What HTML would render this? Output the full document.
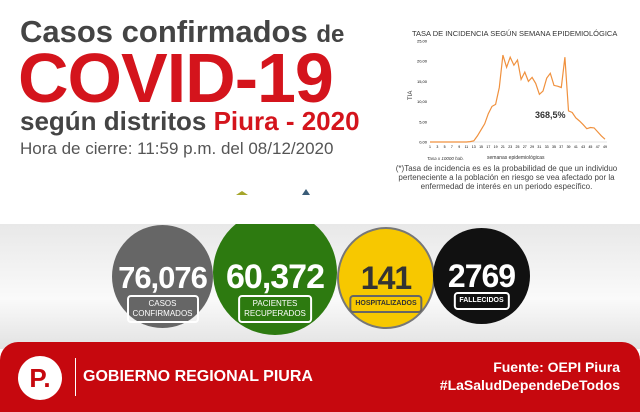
<!DOCTYPE html>
<html><head><meta charset="utf-8"><style>
body{margin:0;width:640px;height:406px;overflow:hidden;position:relative;font-family:"Liberation Sans",sans-serif;background:#fff}
.abs{position:absolute}
.circ{position:absolute;border-radius:50%;text-align:center;box-sizing:border-box}
.num{position:absolute;left:0;right:0;font-weight:bold;font-size:31px;letter-spacing:-1px}
.lbl{position:absolute;left:50%;transform:translateX(-50%);border:2px solid #fff;border-radius:4px;font-size:8px;line-height:10px;padding:2px 4px;white-space:nowrap}
</style></head><body>
<div class="abs" style="left:0;top:224px;width:640px;height:125px;background:linear-gradient(#e8e8e8,#fafafa 60%,#e2e2e2)"></div>
<div class="abs" style="left:20px;top:14px;font-size:31px;font-weight:bold;color:#444">Casos confirmados <span style="font-size:24px">de</span></div>
<div class="abs" style="left:18px;top:38px;font-size:70px;font-weight:bold;color:#d4141c;letter-spacing:-1px">COVID-19</div>
<div class="abs" style="left:20px;top:106px;font-size:26px;font-weight:bold;color:#444">según distritos <span style="color:#d4141c">Piura - 2020</span></div>
<div class="abs" style="left:20px;top:139px;font-size:17px;color:#555">Hora de cierre: 11:59 p.m. del 08/12/2020</div>
<div class="abs" style="left:384px;top:164px;width:245px;font-size:8px;line-height:9px;color:#444;text-align:center">(*)Tasa de incidencia es es la probabilidad de que un individuo perteneciente a la población en riesgo se vea afectado por la enfermedad de interés en un periodo específico.</div>
<svg class="abs" style="left:0;top:0" width="640" height="406">
<rect x="405" y="20" width="215" height="142" fill="#fff"/>
<text x="412" y="36" font-size="7.5" fill="#333" font-family="Liberation Sans">TASA DE INCIDENCIA SEGÚN SEMANA EPIDEMIOLÓGICA</text>
<text x="412" y="100" font-size="6" fill="#333" transform="rotate(-90 412 100)">TIA</text>
<g id="yt"></g><g id="xt"></g>
<line x1="430" y1="142" x2="607" y2="142" stroke="#ccc" stroke-width="0.6"/>
<path id="line" fill="none" stroke="#f0913e" stroke-width="1.2"/>
<text x="535" y="118" font-size="9" font-weight="bold" fill="#333">368,5%</text>
<text x="427" y="160" font-size="4.5" font-style="italic" fill="#333">Tasa x 10000 hab.</text>
<text x="487" y="159" font-size="5" fill="#333">semanas epidemiológicas</text>
<polygon points="236,195 242,191 248,195" fill="#a5a52a"/>
<polygon points="302,195 306,189 310,195" fill="#3a5c78"/>
</svg>
<div class="abs" style="left:0;top:224px;width:640px;height:120px;overflow:hidden">
<div class="circ" style="left:112px;top:1px;width:101px;height:103px;background:#666">
<div class="num" style="top:35px;color:#fff">76,076</div>
<div class="lbl" style="top:70px;color:#fff">CASOS<br>CONFIRMADOS</div></div>
<div class="circ" style="left:213px;top:-14px;width:124px;height:125px;background:#2d7a10">
<div class="num" style="top:48px;color:#fff;font-size:34px">60,372</div>
<div class="lbl" style="top:85px;color:#fff">PACIENTES<br>RECUPERADOS</div></div>
<div class="circ" style="left:337px;top:3px;width:98px;height:102px;background:#f7c800;border:2px solid #777">
<div class="num" style="top:31px;color:#333;font-size:32px">141</div>
<div class="lbl" style="top:66px;color:#333;border-color:#666;font-size:7px;font-weight:bold">HOSPITALIZADOS</div></div>
<div class="circ" style="left:433px;top:4px;width:97px;height:96px;background:#111">
<div class="num" style="top:30px;color:#fff;font-size:32px">2769</div>
<div class="lbl" style="top:64px;color:#fff;font-size:7px;font-weight:bold">FALLECIDOS</div></div>
</div>
<div class="abs" style="left:0;top:342px;width:640px;height:70px;background:#c6080e;border-radius:18px 18px 0 0"></div>
<div class="abs" style="left:18px;top:356px;width:44px;height:44px;border-radius:50%;background:#fff;color:#c6080e;font-weight:bold;font-size:26px;text-align:center;line-height:44px">P.</div>
<div class="abs" style="left:75px;top:358px;width:1px;height:38px;background:#fff"></div>
<div class="abs" style="left:83px;top:368px;color:#fff;font-weight:bold;font-size:16px">GOBIERNO REGIONAL PIURA</div>
<div class="abs" style="right:20px;top:358px;color:#fff;font-weight:bold;font-size:14px;text-align:right;line-height:18px">Fuente: OEPI Piura<br>#LaSaludDependeDeTodos</div>
<script>
const weeks=[];for(let i=1;i<=49;i++)weeks.push(i);
const tia=[0,0,0,0,0,0,0,0,0,0,0,0.1,0.3,1.5,3,4.5,7,8.8,9.3,13.5,21.5,18.5,21,19,20.3,15.5,17.3,15,16,14.5,11.8,12.6,15.8,17,14,13.8,13.5,21,7.7,7.3,6,5.2,4.3,3.3,3.6,3.5,2.5,1.5,0.7];
const yTicks=[0,5,10,15,20,25];
const xs=w=>430+(w-1)*(175/48), ys=v=>142-v*(101/25);
const ns='http://www.w3.org/2000/svg';
document.getElementById('line').setAttribute('d',tia.map((v,i)=>(i?'L':'M')+xs(weeks[i]).toFixed(1)+' '+ys(v).toFixed(1)).join(''));
const yt=document.getElementById('yt');
yTicks.forEach(t=>{const e=document.createElementNS(ns,'text');e.setAttribute('x',427);e.setAttribute('y',ys(t)+1.5);e.setAttribute('font-size','4');e.setAttribute('text-anchor','end');e.textContent=t.toFixed(2).replace('.',',');


yt.appendChild(e);});
const xt=document.getElementById('xt');
weeks.filter(w=>w%2).forEach(w=>{const e=document.createElementNS(ns,'text');e.setAttribute('x',xs(w));e.setAttribute('y',148);e.setAttribute('font-size','3.5');e.setAttribute('text-anchor','middle');e.textContent=w;


xt.appendChild(e);});
</script>
</body></html>
